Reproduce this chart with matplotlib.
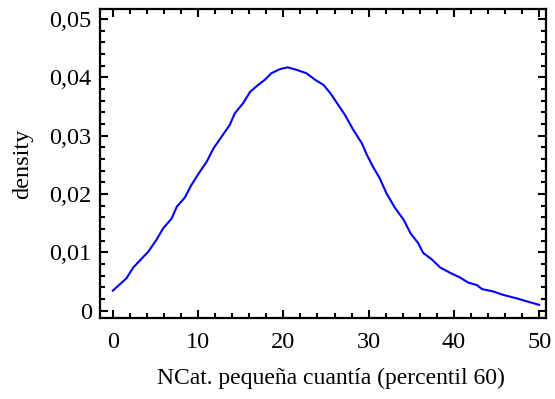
import matplotlib
matplotlib.use("Agg")
import matplotlib.pyplot as plt
from matplotlib.ticker import MultipleLocator, FuncFormatter

x_vals = [0.0, 1.6, 2.4, 4.15, 5.1, 5.9, 6.9, 7.5, 8.45, 9.2, 10.2, 11.0, 11.8, 12.75,
          13.7, 14.3, 15.3, 16.1, 17.05, 17.85, 18.6, 19.6, 20.5, 21.5, 22.7, 23.7,
          24.7, 25.5, 26.05, 27.2, 28.2, 29.2, 29.8, 30.5, 31.3, 32.1, 33.1, 34.1,
          34.9, 35.8, 36.4, 37.4, 38.4, 39.55, 40.7, 41.7, 42.7, 43.3, 44.6, 45.8,
          47.4, 48.8, 50.0]
density = [0.00343, 0.00555, 0.0074, 0.0101, 0.0121, 0.0141, 0.0158, 0.0178, 0.0194,
           0.0215, 0.0238, 0.0255, 0.0278, 0.0298, 0.0318, 0.0338, 0.0356, 0.0375,
           0.0387, 0.0396, 0.0407, 0.0414, 0.0417, 0.0413, 0.0407, 0.0396, 0.0387,
           0.0373, 0.0361, 0.0336, 0.0310, 0.0287, 0.0267, 0.0247, 0.0227, 0.0201,
           0.0176, 0.0156, 0.0133, 0.0116, 0.0099, 0.0088, 0.0074, 0.0065, 0.0057,
           0.0048, 0.0044, 0.0037, 0.0033, 0.0027, 0.0021, 0.0015, 0.0010]
x_label = "NCat. pequeña cuantía (percentil 60)"
y_label = "density"

plt.rcParams['font.family'] = ['Liberation Serif', 'DejaVu Serif']

fig = plt.figure(figsize=(5.55, 3.99), dpi=100)
ax = fig.add_axes([100/555, 1-318/399, 446/555, 309/399])
ax.plot(x_vals, density, color=(0, 0, 1), lw=1.5)

ax.set_xlim(-1.5, 50.8)
ax.set_ylim(-0.00125, 0.0517)
ax.xaxis.set_major_locator(MultipleLocator(10))
ax.xaxis.set_minor_locator(MultipleLocator(2))
ax.yaxis.set_major_locator(MultipleLocator(0.01))
ax.yaxis.set_minor_locator(MultipleLocator(0.002))

def yfmt(v, pos):
    if abs(v) < 1e-9:
        return "0"
    return f"{v:.2f}".replace('.', ',')
ax.yaxis.set_major_formatter(FuncFormatter(yfmt))

for s in ax.spines.values():
    s.set_linewidth(1.6)
ax.tick_params(which='both', direction='in', top=True, right=True, width=1.5, labelsize=17.5)
ax.tick_params(axis='y', which='major', length=6, pad=6)
ax.tick_params(axis='x', which='major', length=6, pad=10)
ax.tick_params(which='minor', length=3.5)

ax.set_xlabel(x_label, fontsize=17, labelpad=12)
ax.set_ylabel(y_label, fontsize=17.5, labelpad=12)
ax.xaxis.set_label_coords(0.5 + 8/446, -50/309)

fig.savefig("out.png", dpi=100)
